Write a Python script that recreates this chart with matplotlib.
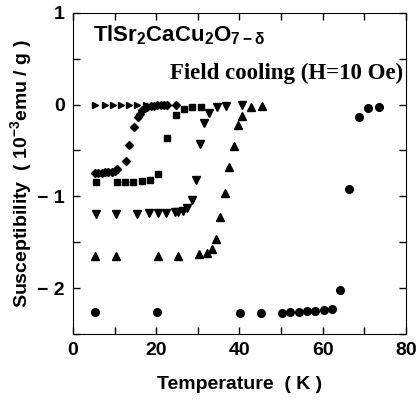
import matplotlib
matplotlib.use("Agg")
import matplotlib.pyplot as plt
from matplotlib.ticker import MultipleLocator, FixedLocator, FixedFormatter

plt.rcParams['font.family'] = ['Liberation Sans', 'DejaVu Sans']
plt.rcParams['mathtext.fontset'] = 'custom'
plt.rcParams['mathtext.rm'] = 'Liberation Sans:bold'
plt.rcParams['mathtext.it'] = 'Liberation Sans:bold'
plt.rcParams['mathtext.bf'] = 'Liberation Sans:bold'

# right-pointing triangles
t_right = [5.3, 7.7, 9.6, 11.5, 13.5, 15.5, 17.5]
chi_right = [0, 0, 0, 0, 0, 0, 0]

# diamonds
t_diam = [5.3, 6.1, 6.9, 7.7, 8.5, 9.3, 10.1, 10.6, 12.7, 13.5, 14.7, 15.7,
          16.0, 16.6, 17.2, 17.9, 18.7, 19.5, 20.3, 21.1, 21.9, 22.7, 24.8]
chi_diam = [-0.75, -0.75, -0.75, -0.74, -0.74, -0.73, -0.72, -0.70, -0.61, -0.44,
            -0.24, -0.13, -0.10, -0.06, -0.04, -0.03, -0.02, -0.02, -0.01, -0.01,
            -0.01, -0.01, 0.0]

# squares
t_sq = [5.5, 10.5, 12.5, 14.5, 16.5, 18.5, 20.5, 22.5, 24.7, 26.7, 28.7, 30.7]
chi_sq = [-0.84, -0.84, -0.84, -0.84, -0.83, -0.82, -0.76, -0.36, -0.11, -0.05,
          -0.03, -0.03]

# down triangles
t_down = [5.5, 10.3, 15.3, 18.3, 20.4, 22.4, 24.4, 25.3, 26.4, 27.3, 28.5, 29.5,
          30.5, 31.5, 32.6, 34.7, 36.7, 40.5]
chi_down = [-1.19, -1.19, -1.19, -1.18, -1.18, -1.18, -1.17, -1.17, -1.16, -1.13,
            -1.04, -0.82, -0.43, -0.20, -0.09, -0.03, -0.02, -0.01]

# up triangles
t_up = [5.3, 10.3, 20.4, 25.3, 30.4, 32.1, 33.3, 34.3, 35.3, 36.5, 37.6, 38.7,
        39.7, 40.7, 42.7, 45.3]
chi_up = [-1.65, -1.65, -1.65, -1.645, -1.63, -1.62, -1.57, -1.46, -1.22, -0.96,
          -0.68, -0.45, -0.22, -0.12, -0.03, -0.02]

# circles
t_circ = [5.3, 20.1, 40.1, 45.2, 50.2, 52.2, 54.2, 56.2, 58.2, 60.2, 62.2, 64.2,
          66.4, 68.6, 70.8, 73.4]
chi_circ = [-2.26, -2.26, -2.27, -2.27, -2.27, -2.26, -2.26, -2.25, -2.25, -2.24,
            -2.23, -2.02, -0.92, -0.13, -0.04, -0.03]

x_ticks = [0, 20, 40, 60, 80]
y_ticks = [-2, -1, 0, 1]
y_labels = ["\u2212 2", "\u2212 1", "0", "1"]

fig = plt.figure(figsize=(4.19, 4.0), dpi=100)
ax = fig.add_axes([0.174, 0.165, 0.795, 0.803])

ax.plot(t_right, chi_right, ">", color="black", ms=4, ls="none")
ax.plot(t_diam, chi_diam, "D", color="black", ms=4.5, ls="none")
ax.plot(t_sq, chi_sq, "s", color="black", ms=4.5, ls="none")
ax.plot(t_down, chi_down, "v", color="black", ms=5.5, ls="none")
ax.plot(t_up, chi_up, "^", color="black", ms=5.5, ls="none")
ax.plot(t_circ, chi_circ, "o", color="black", ms=5.5, ls="none")

ax.set_xlim(0, 80)
ax.set_ylim(-2.5, 1)
ax.xaxis.set_major_locator(FixedLocator(x_ticks))
ax.xaxis.set_minor_locator(MultipleLocator(10))
ax.yaxis.set_major_locator(FixedLocator(y_ticks))
ax.yaxis.set_major_formatter(FixedFormatter(y_labels))
ax.yaxis.set_minor_locator(MultipleLocator(0.5))
ax.tick_params(which="both", direction="in", top=True, right=True,
               length=5, width=1)
ax.tick_params(labelsize=14, pad=6)
for lab in ax.get_xticklabels() + ax.get_yticklabels():
    lab.set_fontweight("bold")

ax.set_xlabel("Temperature  ( K )", fontsize=14, fontweight="bold", labelpad=12)
ax.set_ylabel("Susceptibility  ( 10$^{-3}$emu / g )", fontsize=14,
              fontweight="bold", labelpad=2)

ax.text(0.06, 0.93, "TlSr$_2$CaCu$_2$O$_{7-\\delta}$", transform=ax.transAxes,
        fontsize=16, fontweight="bold", va="center", ha="left")
ax.text(0.99, 0.81, "Field cooling (H=10 Oe)", transform=ax.transAxes,
        fontsize=16.5, fontweight="bold", family="Liberation Serif",
        va="center", ha="right")

fig.savefig("out.png", dpi=100)
